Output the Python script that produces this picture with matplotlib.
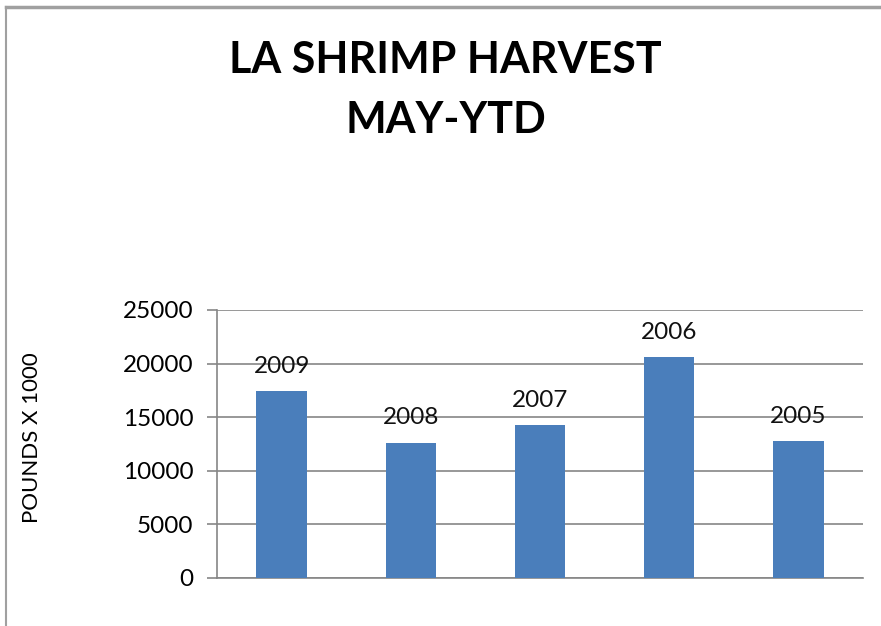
import matplotlib

matplotlib.use("Agg")
import matplotlib.pyplot as plt
from matplotlib.lines import Line2D

# values (pounds x 1000)
years = ["2009", "2008", "2007", "2006", "2005"]
harvest = [17400, 12600, 14250, 20600, 12750]
yticks = [0, 5000, 10000, 15000, 20000, 25000]

plt.rcParams["font.family"] = ["Lato", "DejaVu Sans"]

fig = plt.figure(figsize=(8.81, 6.26), dpi=100)
ax = fig.add_axes([0.2463, 0.0767, 0.7333, 0.4281])

x = range(len(years))
bars = ax.bar(x, harvest, width=0.39, color="#4a7ebb", zorder=3)
for rect, lab in zip(bars, years):
    ax.annotate(lab, (rect.get_x() + rect.get_width() / 2, rect.get_height()),
                xytext=(0, 10.5), textcoords="offset points",
                ha="center", va="bottom", fontsize=17.5, color="#111111")

ax.set_xlim(-0.5, len(years) - 0.5)
ax.set_ylim(0, 25000)
ax.set_yticks(yticks)
ax.set_yticklabels([str(t) for t in yticks], fontsize=17.5)
ax.set_xticks([])
ax.yaxis.grid(True, color="#868686", linewidth=1.2, zorder=0)
ax.tick_params(axis="y", length=7, width=1.2, color="#868686", pad=10)
for side in ["top", "right"]:
    ax.spines[side].set_visible(False)
for side in ["left", "bottom"]:
    ax.spines[side].set_color("#868686")
    ax.spines[side].set_linewidth(1.2)

fig.text(0.036, 0.301, "POUNDS X 1000", rotation=90, ha="center", va="center",
         fontsize=16)

fig.text(0.506, 0.904, "LA SHRIMP HARVEST", ha="center", va="center",
         fontsize=31, fontweight="bold")
fig.text(0.506, 0.808, "MAY-YTD", ha="center", va="center",
         fontsize=31, fontweight="bold")

# outer chart frame (only top and left edges are visible in the source)
fig.add_artist(Line2D([0.007, 1.0], [0.989, 0.989], color="#a0a0a0", linewidth=2.5))
fig.add_artist(Line2D([0.007, 0.007], [0.0, 0.989], color="#a0a0a0", linewidth=1.5))

fig.savefig("out.png", dpi=100)
